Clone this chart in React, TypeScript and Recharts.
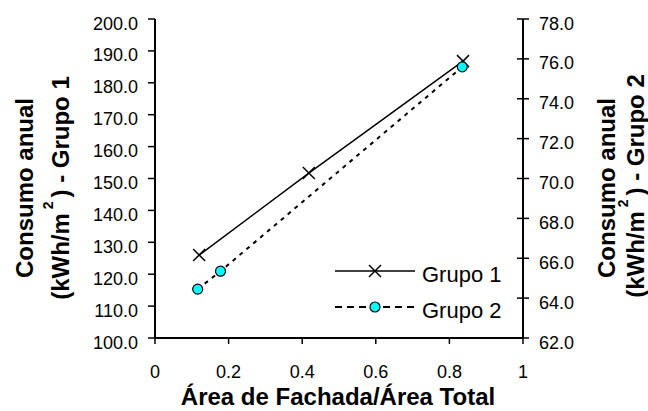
import { ScatterChart, Scatter, XAxis, YAxis } from 'recharts';

const grupo1X = [0.12, 0.418, 0.837];
const grupo1Y = [126.0, 151.7, 186.8];
const grupo2X = [0.116, 0.178, 0.835];
const grupo2Y = [64.45, 65.35, 75.6];

const xTicks = [0, 0.2, 0.4, 0.6, 0.8, 1];
const leftTicks = [100, 110, 120, 130, 140, 150, 160, 170, 180, 190, 200];
const rightTicks = [62, 64, 66, 68, 70, 72, 74, 76, 78];

const seriesNames = ['Grupo 1', 'Grupo 2'];

const grupo1 = grupo1X.map((x, i) => ({ x, y: grupo1Y[i] }));
const grupo2 = grupo2X.map((x, i) => ({ x, y: grupo2Y[i] }));

const FONT = '"Liberation Sans", Arial, sans-serif';

const CrossMark = (props: any) => {
  const { cx, cy } = props;
  const s = 6;
  return (
    <g stroke="#000" strokeWidth={1.5}>
      <line x1={cx - s} y1={cy - s} x2={cx + s} y2={cy + s} />
      <line x1={cx - s} y1={cy + s} x2={cx + s} y2={cy - s} />
    </g>
  );
};

const DotMark = (props: any) => {
  const { cx, cy } = props;
  return <circle cx={cx} cy={cy} r={5} fill="#00FFFF" stroke="#000" strokeWidth={1.2} />;
};

const LeftTick = (props: any) => {
  const { x, y, payload } = props;
  return (
    <text x={x} y={y + 10.5} textAnchor="end" fontSize={18} fontFamily={FONT} fill="#000">
      {Number(payload.value).toFixed(1)}
    </text>
  );
};

const RightTick = (props: any) => {
  const { x, y, payload } = props;
  return (
    <g>
      <line x1={x - 22} y1={y} x2={x - 10} y2={y} stroke="#000" strokeWidth={1.5} />
      <text x={x} y={y + 10.5} textAnchor="start" fontSize={18} fontFamily={FONT} fill="#000">
        {Number(payload.value).toFixed(1)}
      </text>
    </g>
  );
};

const BottomTick = (props: any) => {
  const { x, y, payload } = props;
  return (
    <text x={x} y={y + 26} textAnchor="middle" fontSize={18} fontFamily={FONT} fill="#000">
      {String(payload.value)}
    </text>
  );
};

function Overlay() {
  const titleStyle = { fontSize: 24, fontWeight: 700, fontFamily: FONT, fill: '#000' } as const;
  return (
    <svg
      width={648}
      height={411}
      style={{ position: 'absolute', left: 0, top: 0, pointerEvents: 'none' }}
    >
      {/* eje x */}
      <text x={338} y={405} textAnchor="middle" {...titleStyle}>
        Área de Fachada/Área Total
      </text>

      {/* eje y izquierdo */}
      <text transform="translate(32.5, 188) rotate(-90)" textAnchor="middle" {...titleStyle}>
        Consumo anual
      </text>
      <text transform="translate(69, 188) rotate(-90)" textAnchor="middle" {...titleStyle}>
        (kWh/m<tspan fontSize={14} dy={-16}> 2 </tspan>
        <tspan dy={16}>) - Grupo 1</tspan>
      </text>

      {/* eje y derecho */}
      <text transform="translate(615, 188) rotate(-90)" textAnchor="middle" {...titleStyle}>
        Consumo anual
      </text>
      <text transform="translate(644, 186) rotate(-90)" textAnchor="middle" {...titleStyle}>
        (kWh/m<tspan fontSize={14} dy={-16}> 2 </tspan>
        <tspan dy={16}>) - Grupo 2</tspan>
      </text>

      {/* leyenda */}
      <line x1={335} y1={271} x2={415} y2={271} stroke="#000" strokeWidth={1.5} />
      <CrossMark cx={375} cy={271} />
      <text x={422} y={281.5} fontSize={22} fontFamily={FONT} fill="#000">
        {seriesNames[0]}
      </text>
      <line x1={335} y1={307} x2={415} y2={307} stroke="#000" strokeWidth={2} strokeDasharray="7 5" />
      <DotMark cx={375} cy={307} />
      <text x={422} y={317.5} fontSize={22} fontFamily={FONT} fill="#000">
        {seriesNames[1]}
      </text>
    </svg>
  );
}

export default function App() {
  return (
    <div style={{ position: 'absolute', left: 0, top: 0, width: 648, height: 411, background: '#fff' }}>
      <ScatterChart width={648} height={411} margin={{ top: 19, right: 0, bottom: 0, left: 0 }}>
        <XAxis
          dataKey="x"
          type="number"
          domain={[0, 1]}
          ticks={xTicks}
          height={73}
          tickSize={6}
          tickMargin={8}
          axisLine={{ stroke: '#000', strokeWidth: 2 }}
          tickLine={{ stroke: '#000', strokeWidth: 1.5 }}
          tick={<BottomTick />}
          allowDataOverflow
        />
        <YAxis
          yAxisId="left"
          dataKey="y"
          type="number"
          domain={[100, 200]}
          ticks={leftTicks}
          width={155}
          tickSize={7}
          tickMargin={10}
          axisLine={{ stroke: '#000', strokeWidth: 2 }}
          tickLine={{ stroke: '#000', strokeWidth: 1.5 }}
          tick={<LeftTick />}
          interval={0}
        />
        <YAxis
          yAxisId="right"
          orientation="right"
          dataKey="y"
          type="number"
          domain={[62, 78]}
          ticks={rightTicks}
          width={125}
          tickSize={6}
          tickMargin={10}
          axisLine={{ stroke: '#000', strokeWidth: 2 }}
          tickLine={false}
          tick={<RightTick />}
          interval={0}
        />
        <Scatter
          name={seriesNames[0]}
          yAxisId="left"
          data={grupo1}
          line={{ stroke: '#000', strokeWidth: 1.5 }}
          lineType="joint"
          shape={CrossMark}
          isAnimationActive={false}
        />
        <Scatter
          name={seriesNames[1]}
          yAxisId="right"
          data={grupo2}
          line={{ stroke: '#000', strokeWidth: 2, strokeDasharray: '4 5' }}
          lineType="joint"
          shape={DotMark}
          isAnimationActive={false}
        />
      </ScatterChart>
      <Overlay />
    </div>
  );
}
